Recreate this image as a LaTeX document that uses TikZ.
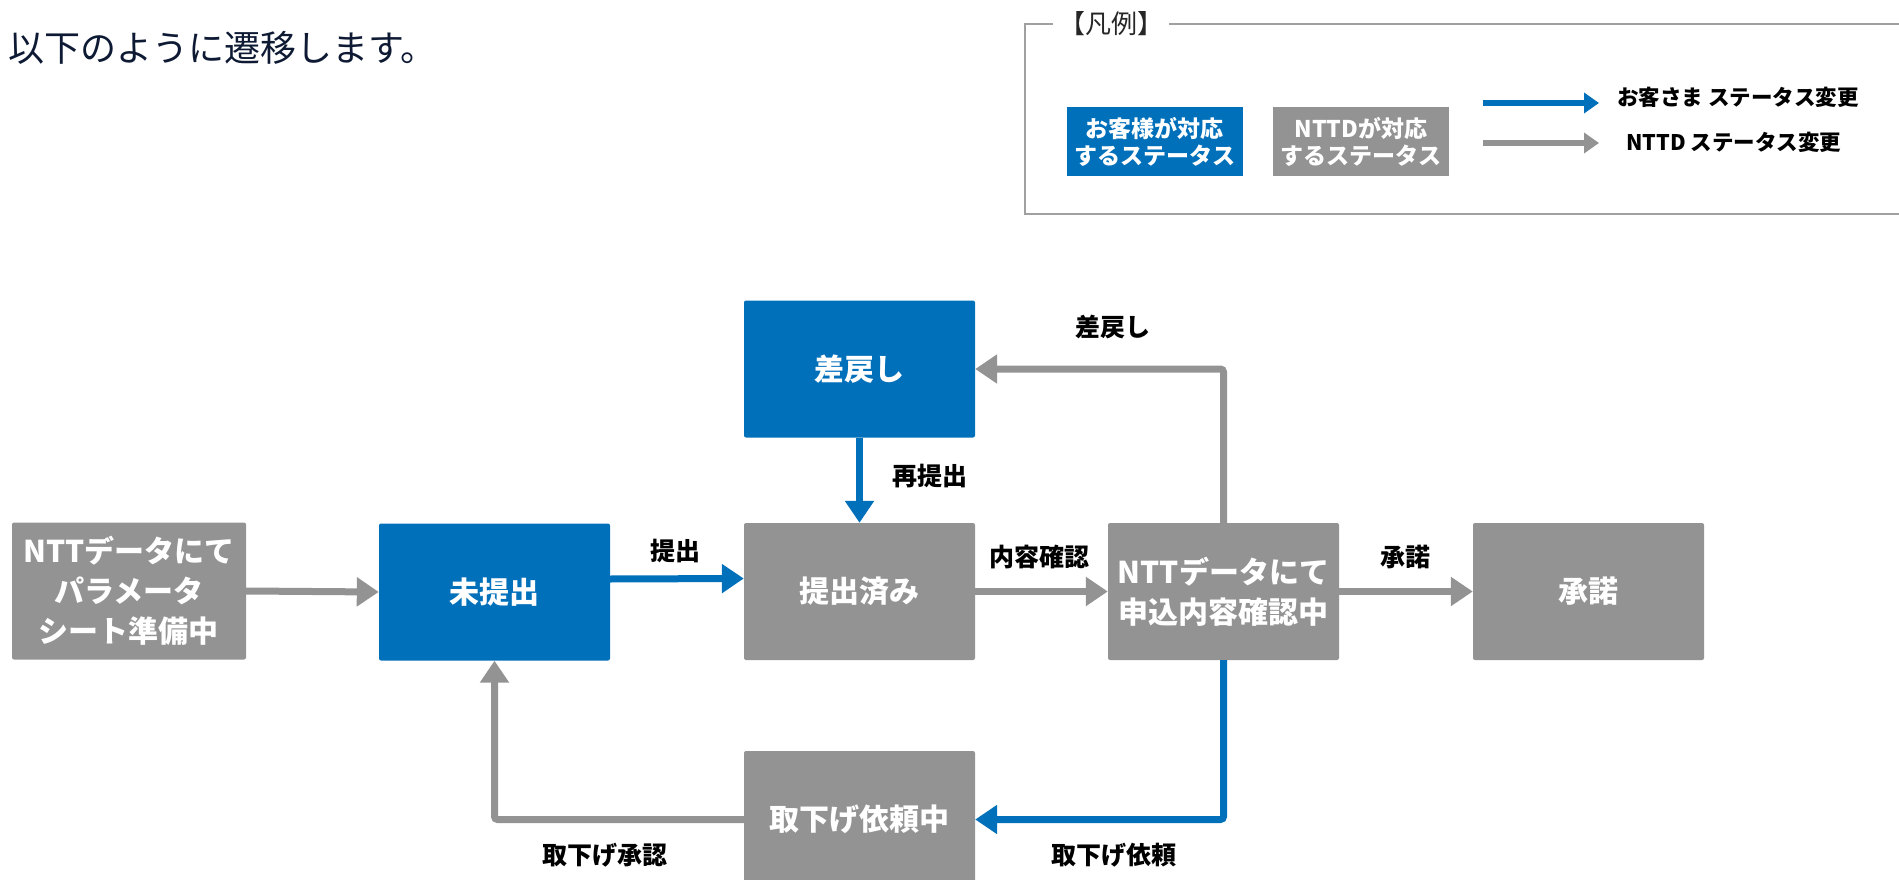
\documentclass[tikz,border=0pt]{standalone}
\usepackage{fontspec}
\setmainfont{Noto Sans CJK JP}
\usetikzlibrary{arrows.meta}
\definecolor{cblue}{RGB}{0,112,186}
\definecolor{cgray}{RGB}{147,147,147}
\definecolor{ctitle}{RGB}{14,26,51}
\definecolor{cframe}{RGB}{160,160,160}
\begin{document}
\begin{tikzpicture}[x=1pt,y=-1pt,
  box/.style={minimum width=231pt,minimum height=137pt,inner sep=0pt,rounded corners=2pt,text=white,font=\fontsize{30}{40}\selectfont\bfseries,align=center},
  bbox/.style={box,fill=cblue},
  gbox/.style={box,fill=cgray},
  conn/.style={line width=7pt,-{Triangle[length=22pt,width=28pt]}},
  bconn/.style={conn,draw=cblue},
  gconn/.style={conn,draw=cgray},
  lab/.style={font=\fontsize{25}{30}\selectfont\bfseries,text=black,inner sep=0pt},
  lgbox/.style={minimum width=176pt,minimum height=69pt,inner sep=0pt,text=white,font=\fontsize{23}{27}\selectfont\bfseries,align=center},
  lgarrow/.style={line width=6pt,-{Triangle[length=15pt,width=20pt]}},
  lgtext/.style={font=\fontsize{21.5}{26}\selectfont\bfseries,text=black,anchor=west,inner sep=0pt}]
\useasboundingbox (0,0) rectangle (1899,880);
% title
\node[anchor=west,inner sep=0pt,text=ctitle,font=\fontsize{36}{42}\selectfont] (title) at (8,48) {以下のように遷移します。};
% legend
\node[inner sep=0pt,font=\fontsize{26}{30}\selectfont,text=black!85] (lgtitle) at (1111,24) {【凡例】};
\draw[cframe,line width=1.5pt] (lgtitle.west) ++(-6,0) -- (1025,24) -- (1025,214) -- (1930,214);
\draw[cframe,line width=1.5pt] (lgtitle.east) ++(6,0) -- (1930,24);
\node[lgbox,fill=cblue] (lgb) at (1154.5,141.5) {お客様が対応\\するステータス};
\node[lgbox,fill=cgray] (lgg) at (1361,141.5) {NTTDが対応\\するステータス};
\coordinate (lba) at (1483,103);
\coordinate (lbb) at (1599,103);
\coordinate (lga) at (1483,143);
\coordinate (lgb2) at (1599,143);
\draw[lgarrow,draw=cblue] (lba) -- (lbb);
\draw[lgarrow,draw=cgray] (lga) -- (lgb2);
\node[lgtext] (lt1) at (1617,97) {お客さま ステータス変更};
\node[lgtext] (lt2) at (1626,142) {NTTD ステータス変更};
% nodes
\node[gbox,minimum width=234pt] (A) at (129,591) {NTTデータにて\\パラメータ\\シート準備中};
\node[bbox] (B) at (494.5,592) {未提出};
\node[gbox] (C) at (859.5,591.5) {提出済み};
\node[bbox] (D) at (859.5,369) {差戻し};
\node[gbox] (E) at (1223.5,591.5) {NTTデータにて\\申込内容確認中};
\node[gbox] (F) at (1588.5,591.5) {承諾};
\node[gbox] (G) at (859.5,819.5) {取下げ依頼中};
% connectors
\draw[gconn] (A.east) -- (B.west);
\draw[bconn] ([yshift=13pt]B.east) -- ([yshift=13pt]C.west);
\draw[gconn] (C.east) -- (E.west);
\draw[gconn] (E.east) -- (F.west);
\draw[bconn] (D.south) -- (C.north);
\draw[gconn,rounded corners=3pt] (E.north) |- (D.east);
\draw[bconn,rounded corners=3pt] (E.south) |- (G.east);
\draw[gconn,rounded corners=3pt] (G.west) -| (B.south);
% labels
\node[lab] (l1) at (675,551) {提出};
\node[lab] (l2) at (1039,557) {内容確認};
\node[lab] (l3) at (1405,557) {承諾};
\node[lab] (l4) at (930,476) {再提出};
\node[lab] (l5) at (1113,327) {差戻し};
\node[lab] (l6) at (1114,855) {取下げ依頼};
\node[lab] (l7) at (605,855) {取下げ承認};
\end{tikzpicture}
\end{document}
